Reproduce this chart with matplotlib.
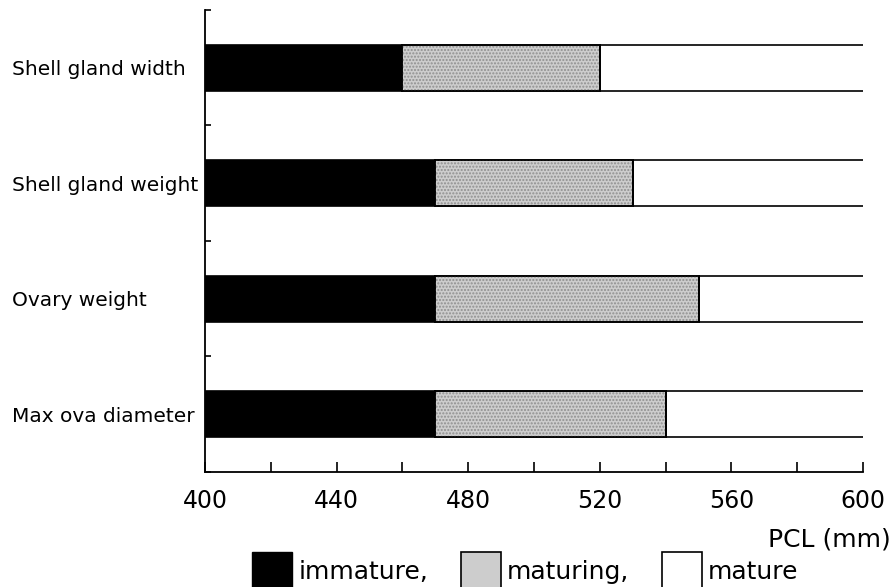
import numpy as np
import matplotlib
matplotlib.use("Agg")
import matplotlib.pyplot as plt
from matplotlib.patches import Patch
from matplotlib.ticker import MultipleLocator, FixedLocator

# -------------------- datos --------------------
categories = ["Shell gland width", "Shell gland weight", "Ovary weight", "Max ova diameter"]
immature_end = [460, 470, 470, 470]   # PCL (mm) donde termina "immature"
maturing_end = [520, 530, 550, 540]   # PCL (mm) donde termina "maturing"
x_start, x_end = 400, 600
legend_labels = ["immature,", "maturing,", "mature"]

plt.rcParams['font.family'] = ['DejaVu Sans']
plt.rcParams['hatch.linewidth'] = 1.0

fig = plt.figure(figsize=(8.93, 5.87), dpi=100)
ax = fig.add_axes([0.2296, 0.196, 0.7368, 0.787])

y = np.arange(len(categories))
imm = np.array(immature_end)
mat = np.array(maturing_end)
h = 0.4
grey = '#cdcdcd'

ax.barh(y, imm - x_start, left=x_start, height=h, color='black', edgecolor='black', lw=1.2)
ax.barh(y, mat - imm, left=imm, height=h, color=grey, edgecolor='black', lw=1.2, zorder=2)
# punteado gris encima (textura)
ax.barh(y, mat - imm, left=imm, height=h, facecolor='none', edgecolor='#8f8f8f',
        hatch='.....', lw=0, zorder=2.5)
ax.barh(y, mat - imm, left=imm, height=h, facecolor='none', edgecolor='black', lw=1.2, zorder=3)

# mature: sin borde derecho, solo lineas arriba y abajo
b3 = ax.barh(y, x_end - mat, left=mat, height=h, color='white', lw=0)
for p in b3:
    ax.hlines([p.get_y(), p.get_y() + p.get_height()], p.get_x(), p.get_x() + p.get_width(),
              colors='black', lw=1.2, clip_on=False)
ax.vlines(mat, y - h / 2, y + h / 2, colors='black', lw=1.2, zorder=3)

ax.set_xlim(x_start, x_end)
ax.set_ylim(len(categories) - 0.5, -0.5)

# ejes
for s in ['top', 'right']:
    ax.spines[s].set_visible(False)
ax.spines['left'].set_linewidth(1.3)
ax.spines['bottom'].set_linewidth(1.3)

ax.xaxis.set_major_locator(MultipleLocator(40))
ax.xaxis.set_minor_locator(MultipleLocator(20))
ax.tick_params(axis='x', which='both', direction='in', length=7, width=1.2, pad=12, labelsize=17)

ax.set_yticks(y)
ax.set_yticklabels(categories, ha='left', fontsize=14.5)
ax.yaxis.set_minor_locator(FixedLocator(np.arange(-0.5, len(categories), 1.0)))
ax.tick_params(axis='y', which='major', length=0, pad=139)
ax.tick_params(axis='y', which='minor', direction='in', length=4, width=1.2)

fig.text(0.998, 1 - 527 / 587, "PCL (mm)", ha='right', va='top', fontsize=18)

handles = [Patch(facecolor='black', edgecolor='black'),
           Patch(facecolor=grey, edgecolor='black', lw=1.2),
           Patch(facecolor='white', edgecolor='black', lw=1.2)]
fig.legend(handles, legend_labels, ncol=3, loc='lower left',
           bbox_to_anchor=(252 / 893, -0.006), frameon=False, fontsize=18,
           handlelength=1.6, handleheight=2.0, handletextpad=0.25,
           columnspacing=1.3, borderaxespad=0, borderpad=0)

fig.savefig("out.png", dpi=100)
